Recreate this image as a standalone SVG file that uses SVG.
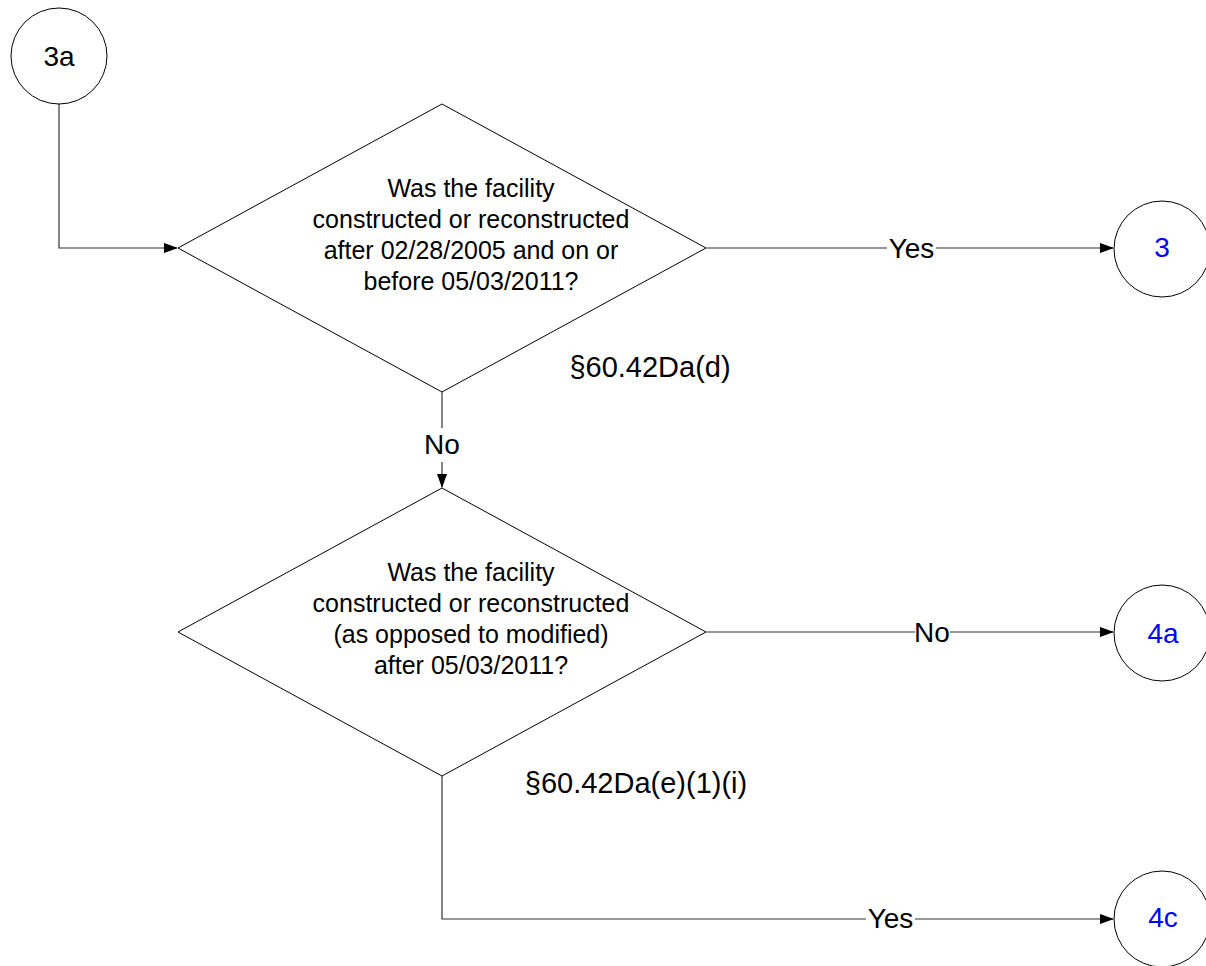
<svg xmlns="http://www.w3.org/2000/svg" width="1206" height="966" viewBox="0 0 1206 966">
<style>
.sh{fill:#fff;stroke:#000;stroke-width:1}
.t{font-family:"Liberation Sans",Arial,sans-serif;font-size:25px;fill:#000;text-anchor:middle}
.l{font-family:"Liberation Sans",Arial,sans-serif;font-size:28px;fill:#000;text-anchor:middle}
.r{font-family:"Liberation Sans",Arial,sans-serif;font-size:29px;fill:#000;text-anchor:middle}
.b{fill:#0000ff}
.c{fill:none;stroke:#333;stroke-width:1.2}
.lbg{fill:#fff}
</style>
<defs>
<marker id="ah" markerWidth="14" markerHeight="10" refX="13" refY="5" orient="auto" markerUnits="userSpaceOnUse">
<path d="M0,0 L14,5 L0,10 Z" fill="#000"/>
</marker>
</defs>
<g id="connectors">
<path class="c" d="M59,104 V248 H177" marker-end="url(#ah)"/>
<path class="c" d="M706,248 H1113" marker-end="url(#ah)"/>
<path class="c" d="M442,392 V487" marker-end="url(#ah)"/>
<path class="c" d="M706,632 H1113" marker-end="url(#ah)"/>
<path class="c" d="M442,776 V919 H1113" marker-end="url(#ah)"/>
<rect class="lbg" x="887" y="234" width="49" height="28"/>
<text class="l" x="911.5" y="258">Yes</text>
<rect class="lbg" x="425" y="428" width="34" height="34"/>
<text class="l" x="442" y="454">No</text>
<rect class="lbg" x="915" y="618" width="35" height="28"/>
<text class="l" x="932" y="642">No</text>
<rect class="lbg" x="866" y="904" width="49" height="28"/>
<text class="l" x="890.5" y="928">Yes</text>
</g>
<g id="n3a">
<circle class="sh" cx="59" cy="56" r="48"/>
<text class="l" x="59" y="66">3a</text>
</g>
<g id="d1">
<polygon class="sh" points="178,248 442,104 706,248 442,392"/>
<text class="t" x="471" y="197">Was the facility</text>
<text class="t" x="471" y="228">constructed or reconstructed</text>
<text class="t" x="471" y="259">after 02/28/2005 and on or</text>
<text class="t" x="471" y="290">before 05/03/2011?</text>
</g>
<text class="r" x="650" y="377">§60.42Da(d)</text>
<g id="n3">
<circle class="sh" cx="1162" cy="249" r="48"/>
<text class="l b" x="1162" y="257">3</text>
</g>
<g id="d2">
<polygon class="sh" points="178,632 442,488 706,632 442,776"/>
<text class="t" x="471" y="581">Was the facility</text>
<text class="t" x="471" y="612">constructed or reconstructed</text>
<text class="t" x="471" y="643">(as opposed to modified)</text>
<text class="t" x="471" y="674">after 05/03/2011?</text>
</g>
<text class="r" x="636" y="793">§60.42Da(e)(1)(i)</text>
<g id="n4a">
<circle class="sh" cx="1162" cy="633" r="48"/>
<text class="l b" x="1163" y="643">4a</text>
</g>
<g id="n4c">
<circle class="sh" cx="1162" cy="919" r="48"/>
<text class="l b" x="1163" y="927">4c</text>
</g>
</svg>
